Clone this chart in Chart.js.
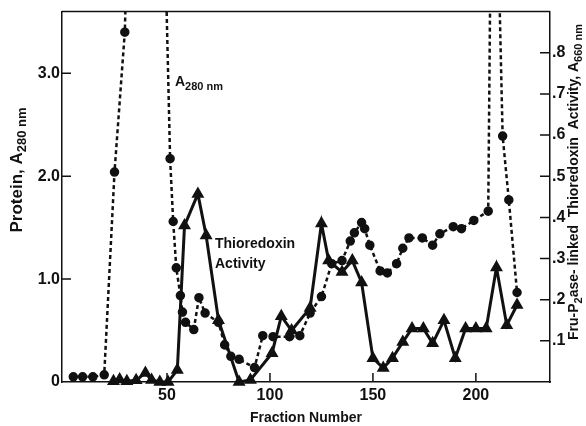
<!DOCTYPE html>
<html>
<head>
<meta charset="utf-8">
<script src="https://cdn.jsdelivr.net/npm/chart.js@4.4.1/dist/chart.umd.min.js"></script>
<style>
  html, body { margin: 0; padding: 0; background: #fff; }
  #wrap { width: 586px; height: 426px; }
</style>
</head>
<body>
<div id="wrap"><canvas id="elution" width="586" height="426"></canvas></div>
<script>
// protein profile (A280, left axis) - peaks at ~40 and ~209 run off the top of the plot
var fracProtein = [4.5, 9, 14, 19.5, 24.5, 29.5, 33, 40, 47, 51.5, 53, 54.5, 56.5, 57.5, 59,
  63, 65.5, 68.5, 75, 78, 81, 85, 92.5, 96.5, 101.5, 109.5, 114.5, 119.5, 125, 130, 135, 139, 141,
  144.5, 146, 148.5, 153.5, 157, 161.5, 164.5, 167.5, 174, 179, 182.5, 189, 193, 199, 206,
  207.5, 210, 213, 216, 220];
var protein = [0.05, 0.05, 0.05, 0.07, 2.04, 3.40, 6, 8, 6, 2.17, 1.56, 1.11, 0.84, 0.68, 0.58,
  0.51, 0.82, 0.67, 0.58, 0.36, 0.25, 0.22, 0.14, 0.45, 0.44, 0.44, 0.45, 0.67, 0.83, 1.15, 1.18, 1.37, 1.45,
  1.55, 1.49, 1.33, 1.08, 1.06, 1.15, 1.30, 1.40, 1.40, 1.33, 1.44, 1.51, 1.49, 1.57, 1.66,
  5, 5, 2.39, 1.77, 0.87];

// thioredoxin activity (A660, right axis)
var fracThio = [24, 27, 30.5, 35, 39.5, 42.5, 46.5, 50.5, 55, 58.5, 65, 69, 75, 85, 90.5, 101,
  105.5, 110.5, 119.5, 125, 128.5, 135, 140, 144.5, 150, 155, 159.5, 164.5, 169, 174.5, 179,
  184.5, 190, 195, 200, 205, 210, 215, 220];
var thioredoxin = [0.002, 0.006, 0.002, 0.004, 0.022, 0.005, 0, 0, 0.029, 0.38, 0.457, 0.356, 0.15, 0, 0.005, 0.07,
  0.16, 0.125, 0.18, 0.385, 0.295, 0.267, 0.295, 0.242, 0.058, 0.034, 0.058, 0.097, 0.13, 0.13, 0.094,
  0.15, 0.058, 0.13, 0.13, 0.13, 0.278, 0.138, 0.187];

var leftTicks = [0, 1, 2, 3];
var rightTicks = [0.1, 0.2, 0.3, 0.4, 0.5, 0.6, 0.7, 0.8];
var fractionTicks = [50, 100, 150, 200];

var FONT = '"Liberation Sans", Arial, sans-serif';
var INK = '#111';

function pairs(xs, ys) {
  return xs.map(function(x, i) { return {x: x, y: ys[i]}; });
}

// text with subscripts, optionally rotated; parts = [{t, size, dy}]
function drawRich(ctx, parts, x, y, angle, align) {
  ctx.save();
  ctx.translate(x, y);
  ctx.rotate(angle || 0);
  var total = 0;
  parts.forEach(function(p) {
    ctx.font = 'bold ' + p.size + 'px ' + FONT;
    p.w = ctx.measureText(p.t).width;
    total += p.w;
  });
  var cx = align === 'left' ? 0 : -total / 2;
  ctx.textAlign = 'left';
  ctx.textBaseline = 'alphabetic';
  ctx.fillStyle = INK;
  parts.forEach(function(p) {
    ctx.font = 'bold ' + p.size + 'px ' + FONT;
    ctx.fillText(p.t, cx, p.dy || 0);
    cx += p.w;
  });
  ctx.restore();
}

var frameAndText = {
  id: 'frameAndText',
  afterDatasetsDraw: function(chart) {
    var ctx = chart.ctx, a = chart.chartArea;
    var sx = chart.scales.x, sy = chart.scales.y, sy2 = chart.scales.y2;
    ctx.save();
    ctx.strokeStyle = INK;
    ctx.lineWidth = 1.5;
    ctx.beginPath();
    ctx.moveTo(a.left, a.top); ctx.lineTo(a.right, a.top);
    // inward tick marks
    fractionTicks.forEach(function(v) {
      var px = sx.getPixelForValue(v);
      ctx.moveTo(px, a.bottom); ctx.lineTo(px, a.bottom - 9);
    });
    leftTicks.forEach(function(v) {
      if (v === 0) return;
      var py = sy.getPixelForValue(v);
      ctx.moveTo(a.left, py); ctx.lineTo(a.left + 9, py);
    });
    rightTicks.forEach(function(v) {
      var py = sy2.getPixelForValue(v);
      ctx.moveTo(a.right, py); ctx.lineTo(a.right - 10, py);
    });
    ctx.stroke();
    ctx.restore();

    // labels
    drawRich(ctx, [{t: 'A', size: 14}, {t: '280 nm', size: 11, dy: 4}], 175, 86, 0, 'left');
    drawRich(ctx, [{t: 'Thioredoxin', size: 14}], 215, 248, 0, 'left');
    drawRich(ctx, [{t: 'Activity', size: 14}], 215, 268, 0, 'left');
    drawRich(ctx, [{t: 'Fraction Number', size: 14}], 306, 422, 0);
    drawRich(ctx, [{t: 'Protein, A', size: 17}, {t: '280 nm', size: 13, dy: 4}], 22, 170, -Math.PI / 2);
    drawRich(ctx, [{t: 'Fru-P', size: 14}, {t: '2', size: 11, dy: 4}, {t: 'ase- linked  Thioredoxin  Activity, A', size: 14},
      {t: '660 nm', size: 11, dy: 4}], 578, 182, -Math.PI / 2);
  }
};

var tickFont = {family: FONT, size: 16, weight: 'bold'};

new Chart(document.getElementById('elution'), {
  type: 'line',
  data: {
    datasets: [
      {
        label: 'Protein A280',
        data: pairs(fracProtein, protein),
        yAxisID: 'y',
        borderColor: INK,
        backgroundColor: INK,
        borderWidth: 2.5,
        borderDash: [4, 3],
        pointStyle: 'circle',
        pointRadius: 3.5,
        tension: 0
      },
      {
        label: 'Thioredoxin activity',
        data: pairs(fracThio, thioredoxin),
        yAxisID: 'y2',
        borderColor: INK,
        backgroundColor: INK,
        borderWidth: 3,
        pointStyle: 'triangle',
        pointRadius: 4.5,
        tension: 0,
        clip: false
      }
    ]
  },
  options: {
    responsive: false,
    animation: false,
    devicePixelRatio: 1,
    layout: {padding: {top: 10, left: 0, right: 0, bottom: 0}},
    plugins: {legend: {display: false}, tooltip: {enabled: false}},
    scales: {
      x: {
        type: 'linear',
        min: -1,
        max: 236,
        afterFit: function(s) { s.height = 44; },
        afterBuildTicks: function(s) { s.ticks = fractionTicks.map(function(v) { return {value: v}; }); },
        ticks: {font: tickFont, color: INK, padding: 4, maxRotation: 0},
        grid: {display: false, drawTicks: false},
        border: {display: true, color: INK, width: 1.5}
      },
      y: {
        position: 'left',
        min: 0,
        max: 3.6,
        afterFit: function(s) { s.width = 62; },
        afterBuildTicks: function(s) { s.ticks = leftTicks.map(function(v) { return {value: v}; }); },
        ticks: {
          font: tickFont, color: INK, padding: 2,
          callback: function(v) { return v === 0 ? '0' : v.toFixed(1); }
        },
        grid: {display: false, drawTicks: false},
        border: {display: true, color: INK, width: 1.5}
      },
      y2: {
        position: 'right',
        min: 0,
        max: 0.9,
        afterFit: function(s) { s.width = 36; },
        afterBuildTicks: function(s) { s.ticks = rightTicks.map(function(v) { return {value: v}; }); },
        ticks: {
          font: tickFont, color: INK, padding: 2,
          callback: function(v) { return '.' + Math.round(v * 10); }
        },
        grid: {display: false, drawTicks: false},
        border: {display: true, color: INK, width: 1.5}
      }
    }
  },
  plugins: [frameAndText]
});
</script>
</body>
</html>
